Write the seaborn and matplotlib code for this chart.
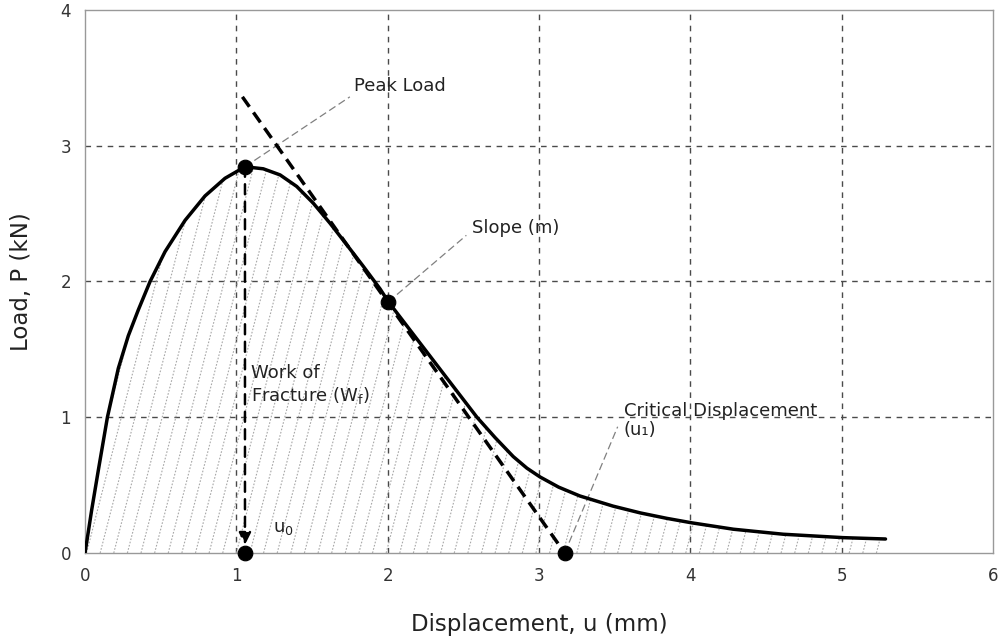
import numpy as np
import pandas as pd
import matplotlib
matplotlib.use('Agg')
import matplotlib.pyplot as plt
import seaborn as sns

# Load-displacement curve
disp = [0, 0.044, 0.088, 0.148, 0.22, 0.286, 0.352, 0.43, 0.529, 0.661, 0.793,
        0.925, 1.057, 1.178, 1.289, 1.399, 1.509, 1.619, 1.73, 1.84, 1.95, 2.005,
        2.17, 2.39, 2.59, 2.71, 2.83, 2.92, 3.007, 3.13, 3.27, 3.49, 3.67, 3.845,
        4.01, 4.285, 4.615, 5.01, 5.29]
load = [0, 0.317, 0.61, 1.0, 1.36, 1.60, 1.79, 2.0, 2.22, 2.45, 2.63,
        2.76, 2.845, 2.83, 2.785, 2.70, 2.576, 2.429, 2.27, 2.11, 1.945, 1.85,
        1.61, 1.29, 1.0, 0.85, 0.71, 0.625, 0.56, 0.485, 0.42, 0.345, 0.295, 0.255,
        0.222, 0.175, 0.138, 0.113, 0.103]

# key points: peak, slope point, u0, u1
pts_x = [1.057, 2.005, 1.057, 3.17]
pts_y = [2.845, 1.85, 0.0, 0.0]

# tangent (slope m) line end points
tangent_x = [1.04, 3.17]
tangent_y = [3.36, 0.0]

# leader lines for the labels: (start, end)
leaders = [((1.057, 2.845), (1.75, 3.36)),
           ((2.005, 1.85), (2.52, 2.34)),
           ((3.17, 0.0), (3.52, 0.93))]

df = pd.DataFrame({'u': disp, 'P': load})
pts = pd.DataFrame({'u': pts_x, 'P': pts_y})

sns.set_style('white')
plt.rcParams['font.family'] = ['DejaVu Sans']

fig = plt.figure(figsize=(10.05, 6.43), dpi=100)
ax = fig.add_axes([0.0846, 0.14, 0.9034, 0.8445])

# hatched area under the curve
area = ax.fill_between(df['u'], df['P'], 0, color='none', lw=0)
clip = area.get_paths()[0]
for x0 in np.arange(-0.8, 5.4, 0.09):
    ln, = ax.plot([x0, x0 + 0.23 * 4], [0, 4], ls=(0, (1.5, 1.5)), color='#a8a8a8', lw=0.8, zorder=1)
    ln.set_clip_path(clip, ax.transData)

# grid
for gx in [1, 2, 3, 4, 5]:
    ax.axvline(gx, color='#4a4a4a', lw=1, ls=(0, (4, 4)), zorder=0.5)
for gy in [1, 2, 3]:
    ax.axhline(gy, color='#4a4a4a', lw=1, ls=(0, (4, 4)), zorder=0.5)

sns.lineplot(data=df, x='u', y='P', ax=ax, color='black', lw=2.5, zorder=4, sort=False)

ax.plot(tangent_x, tangent_y, color='black', lw=2.5, ls=(0, (3.5, 2)), zorder=4)

# arrow from peak down to u0
ax.annotate('', xy=(pts_x[2], 0.06), xytext=(pts_x[0], pts_y[0]),
            arrowprops=dict(arrowstyle='-|>', color='black', lw=1.8, ls=(0, (4, 3)),
                            mutation_scale=18, shrinkA=0, shrinkB=0), zorder=4)

sns.scatterplot(data=pts, x='u', y='P', ax=ax, color='black', s=110, edgecolor='black',
                zorder=5, clip_on=False)

for s, e in leaders:
    ax.plot([s[0], e[0]], [s[1], e[1]], color='#808080', lw=0.9, ls=(0, (6, 3)), zorder=3)

txt = dict(fontsize=13, color='#222222', ha='left')
ax.text(1.78, 3.37, 'Peak Load', va='bottom', **txt)
ax.text(2.56, 2.33, 'Slope (m)', va='bottom', **txt)
ax.text(3.56, 0.84, 'Critical Displacement\n(u₁)', va='bottom', linespacing=1.1, **txt)
ax.text(1.1, 1.39, 'Work of\nFracture (W$_\\mathrm{f}$)', va='top', linespacing=1.2, **txt)
ax.text(1.24, 0.12, 'u$_0$', va='bottom', **txt)

ax.set_xlim(0, 6)
ax.set_ylim(0, 4)
ax.set_xticks([0, 1, 2, 3, 4, 5, 6])
ax.set_yticks([0, 1, 2, 3, 4])
ax.tick_params(length=0, labelsize=12, labelcolor='#333333', pad=10)
for sp in ax.spines.values():
    sp.set_color('#999999')
    sp.set_linewidth(1)
ax.set_xlabel('Displacement, u (mm)', fontsize=16.5, color='#222222', labelpad=20)
ax.set_ylabel('Load, P (kN)', fontsize=16.5, color='#222222', labelpad=20)

fig.savefig('out.png', dpi=100)
